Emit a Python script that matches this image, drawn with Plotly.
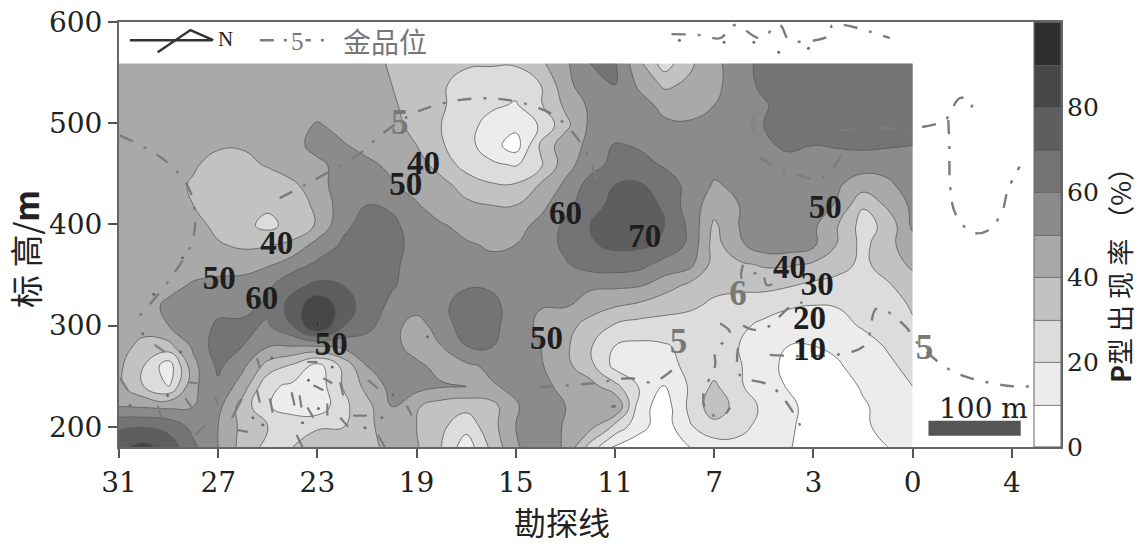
import plotly.graph_objects as go

SERIF = "DejaVu Serif"
BOLD = "Liberation Serif"
CJK = "Noto Sans CJK SC"

tick_pos = [0, 1, 2, 3, 4, 5, 6, 7, 8, 9]
tick_labels = ["31", "27", "23", "19", "15", "11", "7", "3", "0", "4"]
elev_ticks = [200, 300, 400, 500, 600]
bar_ticks = [0, 20, 40, 60, 80]

line_pos = [i * 0.25 for i in range(33)]
elevations = [559, 538, 518, 498, 478, 459, 439, 419, 399, 380, 360, 340, 320, 300, 280, 260, 240, 220, 201, 180]
rate = [
    [45,45,45,45,45,45,45,45,45,45,43, 39,38,34,31,31,31,38,48,60,61,42, 25,38,47,56,63,65,65,65,65,65,65],
    [45,45,45,45,45,45,45,45,45,45,44, 40,37,31,27,24,24,30,46,58,60,48, 38,42,47,56,62,65,65,65,65,65,65],
    [45,45,45,45,45,45,45,45,45,45,44, 41,37,31,26,22,19,29,42,52,56,54, 47,47,50,54,59,64,65,65,65,65,65],
    [45,45,45,45,45,45,45,46,51,47,45, 42,38,30,24,16,13,21,37,52,55,55, 52,51,51,55,60,63,65,65,65,65,65],
    [45,45,45,43,41,41,42,47,53,51,47, 44,40,31,24,14,5,32,46,52,61,59, 55,54,54,54,59,61,60,61,62,61,60],
    [46,45,44,41,37,37,41,46,48,53,52, 48,44,36,26,22,19,28,46,56,63,63, 59,55,53,53,55,58,57,55,54,54,55],
    [46,45,43,39,34,33,34,38,46,55,57, 51,46,43,36,31,31,41,52,64,70,71, 65,57,49,52,54,55,53,51,45,48,55],
    [46,45,44,40,34,33,32,35,42,55,60, 58,51,44,42,40,40,47,57,66,73,73, 69,55,45,50,60,56,54,49,31,42,52],
    [47,46,45,44,37,33,27,34,41,58,63, 63,54,51,47,45,46,53,62,70,75,75, 70,58,38,50,53,57,52,40,26,33,52],
    [47,46,45,44,41,38,39,42,54,61,63, 64,56,53,51,49,50,55,62,69,72,72, 68,58,36,48,56,56,52,39,27,37,46],
    [47,46,46,46,46,47,49,56,62,64,62, 62,56,54,52,52,52,54,59,64,65,63, 56,53,36,38,41,41,38,33,28,34,42],
    [46,46,47,51,53,53,58,67,72,70,64, 61,56,54,59,58,52,52,54,52,52,51, 45,38,33,33,33,31,28,27,26,29,35],
    [45,46,52,55,56,57,62,74,88,76,65, 58,55,58,64,64,54,50.5,51,45,41,38, 33,32,28,25,24,21,20,20.5,22,26,31],
    [44,44,50,53,62,62,59,70,91,71,63, 54,45,56,64,63,55,48,44,36,29,26, 27,25,23,22,18,16,16,17,21,25,29],
    [44,37,37,52,65,60,51,50.5,51,53,55, 53,46,50,60,61,51,50,42,31,20,18, 19,23,23,20,12,10,10,12,16,21,26],
    [42,30,14,47,62,52,36,28,16,32,50, 53,52,47,48,52,54,51,43,33,17,14, 17,22,25,21,13,8,7,9,14,18,23],
    [43,30,20,48,58,45,22,18,14,30,43, 53,54,51,50,49,52,52,48,44,33,19, 9,21,32,21,16,9,5,6,11,15,20],
    [50,49,48,50,53,35,21,14,13,27,37, 50,41,35,33,36,49,56,50,45,51,14, 5,22,36,26,18,13,5,5,9,13,18],
    [68,69,66,57,50,37,30,28,29,29,36, 49,40,32,24,36,50,56,49,44,28,13, 5,19,27,23,17,12,5,4,9,12,15],
    [78,83,76,62,50,36,27,30,34,38,33, 47,41,30,14,32,49,55,49,26,8,5, 6,10,15,17,15,11,4,4,9,10,12],
]
band_greys = ["#ffffff", "#ececec", "#dcdcdc", "#c2c2c2", "#a9a9a9", "#8b8b8b", "#747474", "#5e5e5e", "#474747", "#2e2e2e"]

rate_label_text = ["40", "50", "60", "70", "40", "50", "60", "50", "50", "50", "40", "30", "20", "10"]
rate_label_x = [3.07, 2.89, 4.5, 5.3, 1.59, 1.01, 1.44, 2.14, 4.31, 7.12, 6.76, 7.04, 6.96, 6.96]
rate_label_y = [458, 437, 409, 386, 379, 344, 325, 279, 285, 414, 355, 338, 305, 274]

grade_label_text = ["5", "5", "6", "5", "6", "5", "6", "5", "5"]
grade_label_x = [2.83, 5.64, 6.24, 8.12, 6.44, 7.33, 2.41, 2.61, 5.56]
grade_label_y = [498, 282, 329, 276, 496, 506, 341, 306, 406]
grade_label_alpha = [1, 1, 1, 1, 0.22, 0.22, 0.2, 0.2, 0.2]

gold_lines = [
    ([0.01, 0.48, 0.72, 0.75, 0.52, 0.21], [488, 462, 432, 387, 347, 310]),
    ([1.62, 1.93, 2.40, 2.66, 3.00, 3.44, 3.91, 4.38, 4.67, 4.85], [426, 442, 468, 490, 511, 523, 523, 508, 478, 434]),
    ([7.27, 7.67, 8.0, 8.33, 8.38, 8.48, 8.6, 8.56], [493, 495, 495, 503, 511, 525, 520, 510]),
    ([8.36, 8.37, 8.38, 8.43, 8.6, 8.76, 8.9, 8.96, 9.08], [503, 478, 436, 411, 392, 394, 412, 434, 457]),
    ([6.56, 7.5, 7.64, 7.94, 8.0, 8.33, 8.55, 8.75, 9.01, 9.2], [271, 279, 317, 298, 288, 259, 249, 244, 240, 240]),
    ([4.24, 4.78, 5.15, 5.38, 5.6], [239, 243, 248, 244, 258]),
    ([6.29, 6.39, 6.53, 6.76, 6.89], [300, 296, 298, 318, 323]),
    ([6.24, 6.26, 6.56, 6.73, 6.9], [278, 251, 241, 224, 195]),
    ([6.06, 6.16, 6.01, 6.01, 5.89, 5.93, 6.09, 6.16], [302, 293, 274, 261, 231, 214, 211, 219]),
    ([6.29, 6.28, 6.48, 6.53, 6.61], [360, 347, 353, 340, 342]),
    ([6.46, 6.69, 7.07, 7.3], [466, 454, 446, 471]),
    ([5.57, 5.86, 6.06, 6.21, 6.46, 6.66, 6.76, 7.17, 7.19, 7.77], [588, 587, 584, 597, 584, 597, 582, 587, 597, 584]),
]
gold_ticks = [
    ([1.74, 1.77], [234, 221]), ([1.82, 1.84], [231, 219]), ([1.96, 2.06], [241, 236]),
    ([2.06, 2.15], [248, 243]), ([1.90, 1.96], [219, 209]), ([2.10, 2.10], [223, 211]),
    ([2.23, 2.26], [244, 231]), ([1.90, 2.0], [264, 264]), ([1.52, 1.55], [228, 214]),
    ([1.39, 1.42], [236, 224]), ([1.24, 1.14], [228, 209]), ([1.19, 1.30], [197, 195]),
    ([1.79, 1.85], [192, 180]), ([2.23, 2.31], [209, 200]), ([2.36, 2.50], [211, 211]),
    ([2.51, 2.61], [246, 238]), ([2.90, 2.95], [221, 211]), ([2.61, 2.68], [192, 180]),
    ([1.39, 1.42], [268, 258]), ([0.36, 0.46], [281, 274]), ([0.70, 0.79], [244, 243]),
    ([0.01, 0.09], [248, 236]), ([0.67, 0.74], [228, 218]), ([0.97, 1.0], [229, 221]),
    ([0.39, 0.43], [221, 209]), ([0.77, 0.87], [192, 202]),
]
gold_dots_x = [0.64, 0.35, 0.24, 0.62, 0.49, 0.11, 1.35, 1.45, 1.54, 1.91, 2.01, 1.85, 2.15, 2.65, 2.48, 2.76, 3.11, 5.65, 6.1, 6.4, 6.65, 6.95]
gold_dots_y = [367, 331, 292, 274, 231, 221, 209, 202, 268, 246, 218, 204, 259, 209, 199, 232, 289, 582, 580, 580, 570, 574]

north_x = [0.11, 0.94]
north_y = [582, 582]
north_head_x = [0.39, 0.72, 0.95]
north_head_y = [570, 592, 582]
key_x = [1.42, 2.08]
key_y = [582, 582]

levels = len(band_greys)
scale = []
for i, g in enumerate(band_greys):
    scale += [[i / levels, g], [(i + 1) / levels, g]]

fig = go.Figure()
fig.add_trace(go.Contour(
    x=line_pos, y=elevations, z=rate, zmin=0, zmax=100, colorscale=scale,
    autocontour=False,
    contours=dict(start=0, end=100, size=10, coloring="fill"),
    line=dict(color="#5a5a5a", width=0.8, smoothing=1.3),
    hoverinfo="skip",
    colorbar=dict(x=915 / 942, xanchor="left", xpad=0, ypad=0, thickness=27, len=1, y=0.5,
                  yanchor="middle", tickvals=bar_ticks, ticks="", outlinecolor="#666666",
                  outlinewidth=1, tickfont=dict(family=SERIF, size=25, color="#222222")),
))
for xs, ys in gold_lines:
    fig.add_trace(go.Scatter(x=xs, y=ys, mode="lines", showlegend=False, hoverinfo="skip",
                             line=dict(color="#7c7c7c", width=2.4, dash="14px,12px,3px,12px", shape="spline")))
for xs, ys in gold_ticks:
    fig.add_trace(go.Scatter(x=xs, y=ys, mode="lines", showlegend=False, hoverinfo="skip",
                             line=dict(color="#7c7c7c", width=2.2)))
fig.add_trace(go.Scatter(x=gold_dots_x, y=gold_dots_y, mode="markers", showlegend=False, hoverinfo="skip",
                         marker=dict(color="#6a6a6a", size=3)))
for t, x, y, a in zip(grade_label_text, grade_label_x, grade_label_y, grade_label_alpha):
    fig.add_trace(go.Scatter(x=[x], y=[y], mode="text", text=[t], showlegend=False, hoverinfo="skip",
                             textfont=dict(family=BOLD, size=35, color=f"rgba(120,120,120,{a})", weight="bold")))
fig.add_trace(go.Scatter(x=rate_label_x, y=rate_label_y, mode="text", text=rate_label_text,
                         showlegend=False, hoverinfo="skip",
                         textfont=dict(family=BOLD, size=33, color="#1e1e1e", weight="bold")))
fig.add_trace(go.Scatter(x=north_x, y=north_y, mode="lines", showlegend=False, hoverinfo="skip",
                         line=dict(color="#333333", width=2.4)))
fig.add_trace(go.Scatter(x=north_head_x, y=north_head_y, mode="lines", showlegend=False, hoverinfo="skip",
                         line=dict(color="#333333", width=2.4)))
fig.add_trace(go.Scatter(x=key_x, y=key_y, mode="lines", showlegend=False, hoverinfo="skip",
                         line=dict(color="#7c7c7c", width=2.4, dash="14px,10px,3px,10px")))

fig.update_layout(
    width=1138, height=544, margin=dict(l=119, r=77, t=22, b=97, pad=0, autoexpand=False),
    paper_bgcolor="white", plot_bgcolor="white", showlegend=False,
    xaxis=dict(range=[0, 9.496], tickmode="array", tickvals=tick_pos, ticktext=tick_labels,
               ticks="outside", ticklen=9, tickwidth=1.5, tickcolor="#555555",
               showline=True, linecolor="#666666", linewidth=2, mirror=True, showgrid=False, zeroline=False,
               tickfont=dict(family=SERIF, size=28, color="#222222")),
    yaxis=dict(range=[180, 600], tickmode="array", tickvals=elev_ticks,
               ticks="outside", ticklen=9, tickwidth=1.5, tickcolor="#555555",
               showline=True, linecolor="#666666", linewidth=2, mirror=True, showgrid=False, zeroline=False,
               tickfont=dict(family=SERIF, size=28, color="#222222")),
    shapes=[dict(type="rect", xref="x", yref="y", x0=8.16, x1=9.09, y0=191, y1=206,
                 fillcolor="#555555", line=dict(width=0))],
    annotations=[
        dict(xref="paper", yref="paper", x=443 / 942, y=-74 / 425, xanchor="center", yanchor="middle",
             text="勘探线", showarrow=False, font=dict(family=CJK, size=32, color="#222222")),
        dict(xref="paper", yref="paper", x=-94 / 942, y=198 / 425, xanchor="center", yanchor="middle",
             text="标 高/<b>m</b>", textangle=-90, showarrow=False,
             font=dict(family=CJK, size=33, color="#222222")),
        dict(xref="paper", yref="paper", x=1000 / 942, y=178 / 425, xanchor="center", yanchor="middle",
             text="<b>P</b>型 出 现 率 （%）", textangle=-90, showarrow=False,
             font=dict(family=CJK, size=27, color="#222222")),
        dict(xref="x", yref="y", x=1.07, y=583, text="N", showarrow=False,
             font=dict(family=BOLD, size=21, color="#222222")),
        dict(xref="x", yref="y", x=1.80, y=581, text="5", showarrow=False, bgcolor="white",
             font=dict(family=BOLD, size=25, color="#777777")),
        dict(xref="x", yref="y", x=2.68, y=581, text="金品位", showarrow=False,
             font=dict(family=CJK, size=28, color="#777777")),
        dict(xref="x", yref="y", x=8.71, y=218, text="100 m", showarrow=False,
             font=dict(family=SERIF, size=28, color="#222222")),
    ],
)
fig.write_html("out.html", post_script="document.body.style.margin='0';", config=dict(displayModeBar=False))
